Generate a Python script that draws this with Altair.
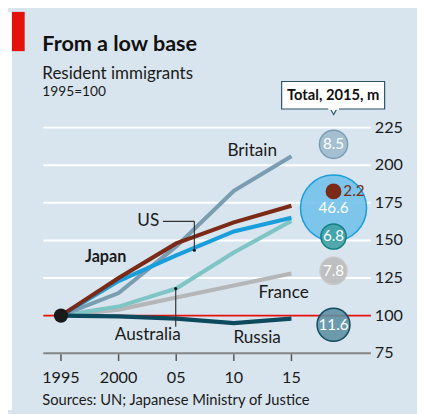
import altair as alt
import pandas as pd

years = [1995, 2000, 2005, 2010, 2015]
britain = [100, 115, 146, 183, 206]
japan = [100, 125, 148, 162, 173]
us = [100, 123, 140, 156, 165]
australia = [100, 106, 118, 142, 163]
france = [100, 104, 112, 120, 128]
russia = [100, 99.5, 98, 95, 98]

series_names = ["France", "Australia", "Britain", "US", "Japan", "Russia"]
series_vals = [france, australia, britain, us, japan, russia]
series_colors = ["#b5b6b7", "#7fc5c6", "#7a9db2", "#1a9ddb", "#7a2a16", "#0d4a5e"]

year_labels = ["1995", "2000", "05", "10", "15"]
y_ticks = [75, 100, 125, 150, 175, 200, 225]
grid_vals = [125, 150, 175, 200, 225]

# Bubbles: total immigrants 2015, millions
bub_names = ["Britain", "US", "Japan", "Australia", "France", "Russia"]
bub_vals = [8.5, 46.6, 2.2, 6.8, 7.8, 11.6]
bub_pos = [213.9, 171.5, 182.6, 152.6, 129.8, 93.9]
bub_fill = ["#9bb9cd", "#70c0e9", "#7a2a16", "#3c9fa3", "#b9b9b9", "#5c8ea3"]
bub_stroke = ["#7a9db2", "#1a9ddb", "#7a2a16", "#137f82", "#c8c8c8", "#124c60"]
bub_x = 2018.65

FONT = "Lato"
BG = "#d9e5ee"

rows = []
for n, vals in zip(series_names, series_vals):
    for yr, v in zip(years, vals):
        rows.append({"series": n, "year": yr, "value": v})
lines_df = pd.DataFrame(rows)

xs = alt.Scale(domain=[1995, 2015], range=[54, 289])
ys = alt.Scale(domain=[75, 225], range=[348, 118])

X = lambda f: alt.X(f, type="quantitative", scale=xs, axis=None)
Y = lambda f: alt.Y(f, type="quantitative", scale=ys, axis=None)

grid = alt.Chart(pd.DataFrame({"v": grid_vals})).mark_rule(color="white", strokeWidth=2).encode(
    y=Y("v"), x=alt.value(36), x2=alt.value(370))

base_axis = alt.Chart(pd.DataFrame({"v": [75]})).mark_rule(color="#858585", strokeWidth=2).encode(
    y=Y("v"), x=alt.value(36), x2=alt.value(370))

ticks = alt.Chart(pd.DataFrame({"year": years})).mark_rule(color="#555555", strokeWidth=1.5).encode(
    x=X("year"), y=alt.value(349), y2=alt.value(356))

red = alt.Chart(pd.DataFrame({"v": [100]})).mark_rule(color="#e3120b", strokeWidth=2).encode(
    y=Y("v"), x=alt.value(36), x2=alt.value(370))

line_layers = []
for n, c in zip(series_names, series_colors):
    line_layers.append(
        alt.Chart(lines_df[lines_df.series == n]).mark_line(strokeWidth=4.2, color=c).encode(
            x=X("year"), y=Y("value")))

dot = alt.Chart(pd.DataFrame({"year": [1995], "value": [100]})).mark_circle(
    color="#1a1a1a", opacity=1, size=210).encode(x=X("year"), y=Y("value"))

bub_df = pd.DataFrame({"name": bub_names, "total": bub_vals, "pos": bub_pos,
                       "x": [bub_x] * 6,
                       "lab": [f"{v:.1f}" for v in bub_vals]})
size_scale = alt.Scale(type="linear", domain=[0, 46.6], range=[0, 4536], zero=True)

bub_layers = []
for i in range(len(bub_names)):
    r = bub_df.iloc[[i]]
    op = 1.0 if bub_names[i] == "Japan" else 0.88
    bub_layers.append(
        alt.Chart(r).mark_circle(fill=bub_fill[i], stroke=bub_stroke[i], strokeWidth=1.5,
                                 fillOpacity=op, opacity=1).encode(
            x=X("x"), y=Y("pos"), size=alt.Size("total:Q", scale=size_scale, legend=None)))

bub_text_df = bub_df[bub_df.name != "Japan"].copy()
bub_text = alt.Chart(bub_text_df).mark_text(color="white", fontSize=15.5, font=FONT).encode(
    x=X("x"), y=Y("pos"), text="lab:N")
japan_lab = alt.Chart(bub_df[bub_df.name == "Japan"]).mark_text(
    color="#7a2a16", fontSize=15.5, font=FONT, align="left", dx=10).encode(
    x=X("x"), y=Y("pos"), text="lab:N")

ylabels = alt.Chart(pd.DataFrame({"v": y_ticks})).mark_text(
    fontSize=16.5, font=FONT, align="left", color="#1a1a1a").encode(
    y=Y("v"), x=alt.value(374), text=alt.Text("v:Q"))

xlabels = alt.Chart(pd.DataFrame({"year": years, "lab": year_labels})).mark_text(
    fontSize=16.5, font=FONT, color="#1a1a1a").encode(
    x=X("year"), y=alt.value(373), text="lab:N")

# series annotations
ann = pd.DataFrame({
    "t": ["Britain", "US", "France", "Australia", "Russia"],
    "px": [249, 143, 281, 142.5, 254],
    "py": [142, 213.5, 287, 330, 333],
})
ann_text = alt.Chart(ann).mark_text(fontSize=17.5, font=FONT, color="#1a1a1a").encode(
    x=alt.X("px:Q", scale=None, axis=None), y=alt.Y("py:Q", scale=None, axis=None), text="t:N")
japan_txt = alt.Chart(pd.DataFrame({"t": ["Japan"]})).mark_text(
    fontSize=16.5, font=FONT, fontWeight="bold", color="#1a1a1a", align="left").encode(
    x=alt.value(78.5), y=alt.value(250), text="t:N")

leader_us = alt.Chart(pd.DataFrame({"a": [0]})).mark_rule(color="#333333", strokeWidth=1.2).encode(
    x=alt.value(158), x2=alt.value(190), y=alt.value(213.5))
leader_us2 = alt.Chart(pd.DataFrame({"a": [0]})).mark_rule(color="#333333", strokeWidth=1.2).encode(
    x=alt.value(190), y=alt.value(213.5), y2=alt.value(243))
leader_au = alt.Chart(pd.DataFrame({"a": [0]})).mark_rule(color="#333333", strokeWidth=1.2).encode(
    x=alt.value(171), y=alt.value(282), y2=alt.value(321))
leader_dots = alt.Chart(pd.DataFrame({"px": [190, 171], "py": [243, 282]})).mark_circle(
    color="#111111", size=10, opacity=1).encode(
    x=alt.X("px:Q", scale=None, axis=None), y=alt.Y("py:Q", scale=None, axis=None))

# callout box
box = alt.Chart(pd.DataFrame({"a": [0]})).mark_rect(fill="white", stroke="#2c5364", strokeWidth=1.2).encode(
    x=alt.value(279), x2=alt.value(384), y=alt.value(71), y2=alt.value(99))
tri = alt.Chart(pd.DataFrame({"a": [0]})).mark_point(
    shape="triangle-down", filled=True, fill="white", stroke="#2c5364", strokeWidth=1.2, size=70, opacity=1).encode(
    x=alt.value(332), y=alt.value(101))
tri_cover = alt.Chart(pd.DataFrame({"a": [0]})).mark_rule(color="white", strokeWidth=3).encode(
    x=alt.value(326.5), x2=alt.value(337.5), y=alt.value(98.5))
box_text = alt.Chart(pd.DataFrame({"t": ["Total, 2015, m"]})).mark_text(
    fontSize=15, font=FONT, fontWeight="bold", color="#111111").encode(
    x=alt.value(331.5), y=alt.value(85), text="t:N")

# header
white_strip = alt.Chart(pd.DataFrame({"a": [0]})).mark_rect(fill="white").encode(
    x=alt.value(0), x2=alt.value(4), y=alt.value(0), y2=alt.value(406))
red_bar = alt.Chart(pd.DataFrame({"a": [0]})).mark_rect(fill="#e3120b").encode(
    x=alt.value(4), x2=alt.value(17), y=alt.value(0), y2=alt.value(40))
title = alt.Chart(pd.DataFrame({"t": ["From a low base"]})).mark_text(
    fontSize=22, font=FONT, fontWeight="bold", align="left", baseline="alphabetic", color="#111111").encode(
    x=alt.value(35), y=alt.value(39.5), text="t:N")
sub1 = alt.Chart(pd.DataFrame({"t": ["Resident immigrants"]})).mark_text(
    fontSize=17.3, font=FONT, align="left", baseline="alphabetic", color="#1a1a1a").encode(
    x=alt.value(35), y=alt.value(68), text="t:N")
sub2 = alt.Chart(pd.DataFrame({"t": ["1995=100"]})).mark_text(
    fontSize=14, font=FONT, align="left", baseline="alphabetic", color="#1a1a1a").encode(
    x=alt.value(35), y=alt.value(86), text="t:N")
source = alt.Chart(pd.DataFrame({"t": ["Sources: UN; Japanese Ministry of Justice"]})).mark_text(
    fontSize=15, font=FONT, align="left", baseline="alphabetic", color="#1a1a1a").encode(
    x=alt.value(35), y=alt.value(401), text="t:N")

chart = alt.layer(
    white_strip, red_bar, title, sub1, sub2, source,
    grid, base_axis, ticks, red,
    *line_layers, dot,
    leader_us, leader_us2, leader_au, leader_dots,
    *bub_layers, bub_text, japan_lab,
    ylabels, xlabels, ann_text, japan_txt,
    tri, box, tri_cover, box_text,
).properties(
    width=417, height=406, background=BG, padding=0,
    autosize=alt.AutoSizeParams(type="none"),
).configure_view(stroke=None)

chart.save("out.html", embed_options={"renderer": "svg", "actions": False})
